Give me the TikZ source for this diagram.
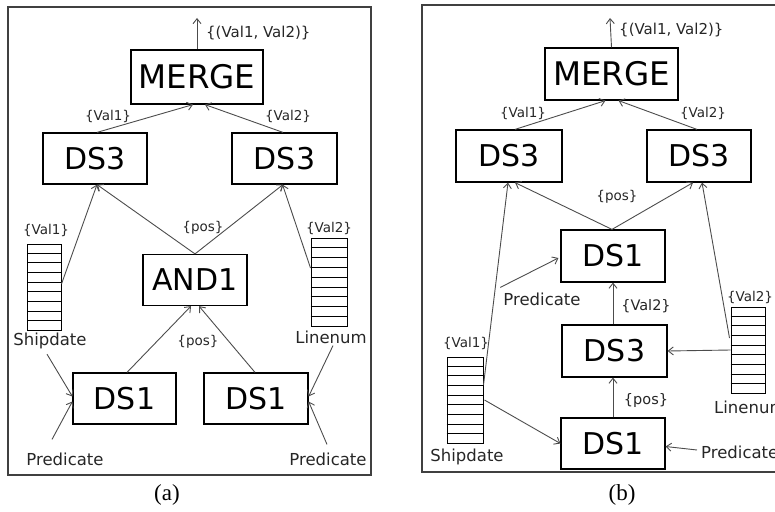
\documentclass[tikz,border=0pt]{standalone}
\usepackage{fontspec}
\setmainfont{DejaVu Sans}
\newfontfamily\capfont{Liberation Serif}
\usetikzlibrary{arrows.meta,calc}

% horizontal rules of a column store: #1 = node name, 9 cells
\newcommand\cellrules[1]{%
  \foreach \i in {1,...,8}
    \draw[line width=0.8pt] ($(#1.north west)!\i/9!(#1.south west)$) -- ($(#1.north east)!\i/9!(#1.south east)$);}

\begin{document}
\begin{tikzpicture}[x=1pt,y=-1pt,
  panel/.style={draw=black!75, line width=1.5pt},
  box/.style={draw=black, line width=1.2pt, minimum width=#1, minimum height=51pt,
              inner sep=0pt, font=\fontsize{30}{30}\selectfont},
  box/.default=104pt,
  mergebox/.style={box=#1, font=\fontsize{32.5}{32.5}\selectfont},
  colstore/.style={draw=black, line width=1pt, minimum width=34pt, minimum height=86pt, inner sep=0pt},
  lbl/.style={inner sep=0pt, text=black!85, font=\fontsize{13.5}{13.5}\selectfont},
  colname/.style={inner sep=0pt, text=black!85, font=\fontsize{16.5}{16.5}\selectfont},
  figcap/.style={inner sep=0pt, font=\capfont\fontsize{23}{23}\selectfont},
  arr/.style={draw=black!70, line width=0.9pt, -{Straight Barb[length=5pt,width=8pt]}}]

\clip (0,0) rectangle (775,511);

%------------------------------ plan (a)
\draw[panel] (8,7) rectangle (371,475);

\node[mergebox=132pt, minimum height=54pt] (mergeA) at (197,77) {MERGE};
\node[box] (ds3LA) at (95,158.5) {DS3};
\node[box=105pt] (ds3RA) at (284.5,158.5) {DS3};
\node[box] (and1A) at (195,280) {AND1};
\node[box=103pt] (ds1LA) at (124.5,398.5) {DS1};
\node[box] (ds1RA) at (256,398.5) {DS1};

\node[colstore, minimum width=33.5pt] (colLA) at (44.25,287) {};
\cellrules{colLA}
\node[colstore, minimum width=36pt, minimum height=88pt] (colRA) at (329,282) {};
\cellrules{colRA}

\coordinate (outA) at (197,18);
\node[lbl, anchor=west, font=\fontsize{15}{15}\selectfont] (resA) at (206,33) {\{(Val1, Val2)\}};
\node[lbl] (v1A) at (108,116) {\{Val1\}};
\node[lbl] (v2A) at (288,116) {\{Val2\}};
\node[lbl] (posUA) at (203,228) {\{pos\}};
\node[lbl] (posLA) at (198,342) {\{pos\}};
\node[lbl] (cv1A) at (46,230) {\{Val1\}};
\node[lbl] (cv2A) at (329,228) {\{Val2\}};
\node[colname] (shipA) at (50,341) {Shipdate};
\node[colname] (lineA) at (331,337) {Linenum};
\node[colname] (predLA) at (65,459) {Predicate};
\node[colname] (predRA) at (328,459) {Predicate};
\node[figcap] (capA) at (167,495) {(a)};

\draw[arr] (mergeA.north) -- (outA);
\draw[arr] ($(ds3LA.north)+(2,0)$) -- ($(mergeA.south)+(-4,0)$);
\draw[arr] ($(ds3RA.north)+(-1.5,0)$) -- ($(mergeA.south)+(8,0)$);
\draw[arr] (and1A.north) -- ($(ds3LA.south)+(2,0)$);
\draw[arr] (and1A.north) -- ($(ds3RA.south)+(-1.5,0)$);
\draw[arr] ($(colLA.east)+(0,-3)$) -- ($(ds3LA.south)+(2,0)$);
\draw[arr] ($(colRA.west)+(0,-14)$) -- ($(ds3RA.south)+(-2,0)$);
\draw[arr] ($(ds1LA.north)+(2.5,0)$) -- ($(and1A.south)+(-4,0)$);
\draw[arr] ($(ds1RA.north)+(-1,0)$) -- ($(and1A.south)+(4,0)$);
\draw[arr] ($(shipA.south)+(-3,5)$) -- ($(ds1LA.west)+(0,-2)$);
\draw[arr] ($(predLA.north)+(-13,-13)$) -- ($(ds1LA.west)+(0,3)$);
\draw[arr] ($(lineA.south)+(2,2)$) -- ($(ds1RA.east)+(0,-2)$);
\draw[arr] ($(predRA.north)+(-1,-8)$) -- ($(ds1RA.east)+(0,3)$);

%------------------------------ plan (b)
\draw[panel] (422,5) rectangle (800,472);

\node[mergebox=133pt, minimum height=52pt] (mergeB) at (611.5,74) {MERGE};
\node[box=106pt, minimum height=52pt] (ds3LB) at (509,156) {DS3};
\node[box, minimum height=52pt] (ds3RB) at (699,156) {DS3};
\node[box, minimum height=52pt] (ds1MB) at (613,256) {DS1};
\node[box=105pt, minimum height=52pt] (ds3MB) at (614.5,351) {DS3};
\node[box] (ds1BB) at (613,443.5) {DS1};

\node[colstore, minimum width=36pt] (colLB) at (465,400) {};
\cellrules{colLB}
\node[colstore] (colRB) at (748,350) {};
\cellrules{colRB}

\coordinate (outB) at (610,18);
\node[lbl, anchor=west, font=\fontsize{15}{15}\selectfont] (resB) at (619,30) {\{(Val1, Val2)\}};
\node[lbl] (v1B) at (523,113) {\{Val1\}};
\node[lbl] (v2B) at (703,113) {\{Val2\}};
\node[lbl] (posUB) at (617,197) {\{pos\}};
\node[lbl, font=\fontsize{14.5}{14.5}\selectfont] (v2MB) at (646,306) {\{Val2\}};
\node[lbl, font=\fontsize{14.5}{14.5}\selectfont] (posLB) at (646,400) {\{pos\}};
\node[lbl] (cv1B) at (466,343) {\{Val1\}};
\node[lbl] (cv2B) at (750,297) {\{Val2\}};
\node[colname] (shipB) at (467,457) {Shipdate};
\node[colname, anchor=west] (lineB) at (714,407) {Linenum};
\node[colname] (predMB) at (542,299) {Predicate};
\node[colname, anchor=west] (predRB) at (701,452) {Predicate};
\node[figcap] (capB) at (622,495) {(b)};

\draw[arr] (mergeB.north) -- (outB);
\draw[arr] ($(ds3LB.north)+(6,0)$) -- ($(mergeB.south)+(-6,0)$);
\draw[arr] ($(ds3RB.north)+(-2,0)$) -- ($(mergeB.south)+(7,0)$);
\draw[arr] ($(ds1MB.north)+(-1,0)$) -- ($(ds3LB.south)+(6,0)$);
\draw[arr] ($(ds1MB.north)+(-1,0)$) -- ($(ds3RB.south)+(-6,0)$);
\draw[arr] ($(colLB.east)+(0,-15)$) -- ($(ds3LB.south)+(-1,0)$);
\draw[arr] ($(colRB.west)+(-1,-12)$) -- ($(ds3RB.south)+(3,0)$);
\draw[arr] ($(predMB.north west)+(-3,-5)$) -- ($(ds1MB.west)+(-2,2)$);
\draw[arr] ($(ds3MB.north)+(-1.5,0)$) -- ($(ds1MB.south)+(0,0)$);
\draw[arr] (colRB.west) -- (ds3MB.east);
\draw[arr] ($(colLB.east)+(1,0)$) -- ($(ds1BB.west)+(0,0)$);
\draw[arr] (ds1BB.north) -- ($(ds3MB.south)+(-1.5,0)$);
\draw[arr] ($(predRB.west)+(-4,-2)$) -- ($(ds1BB.east)+(0,3)$);
\end{tikzpicture}
\end{document}
